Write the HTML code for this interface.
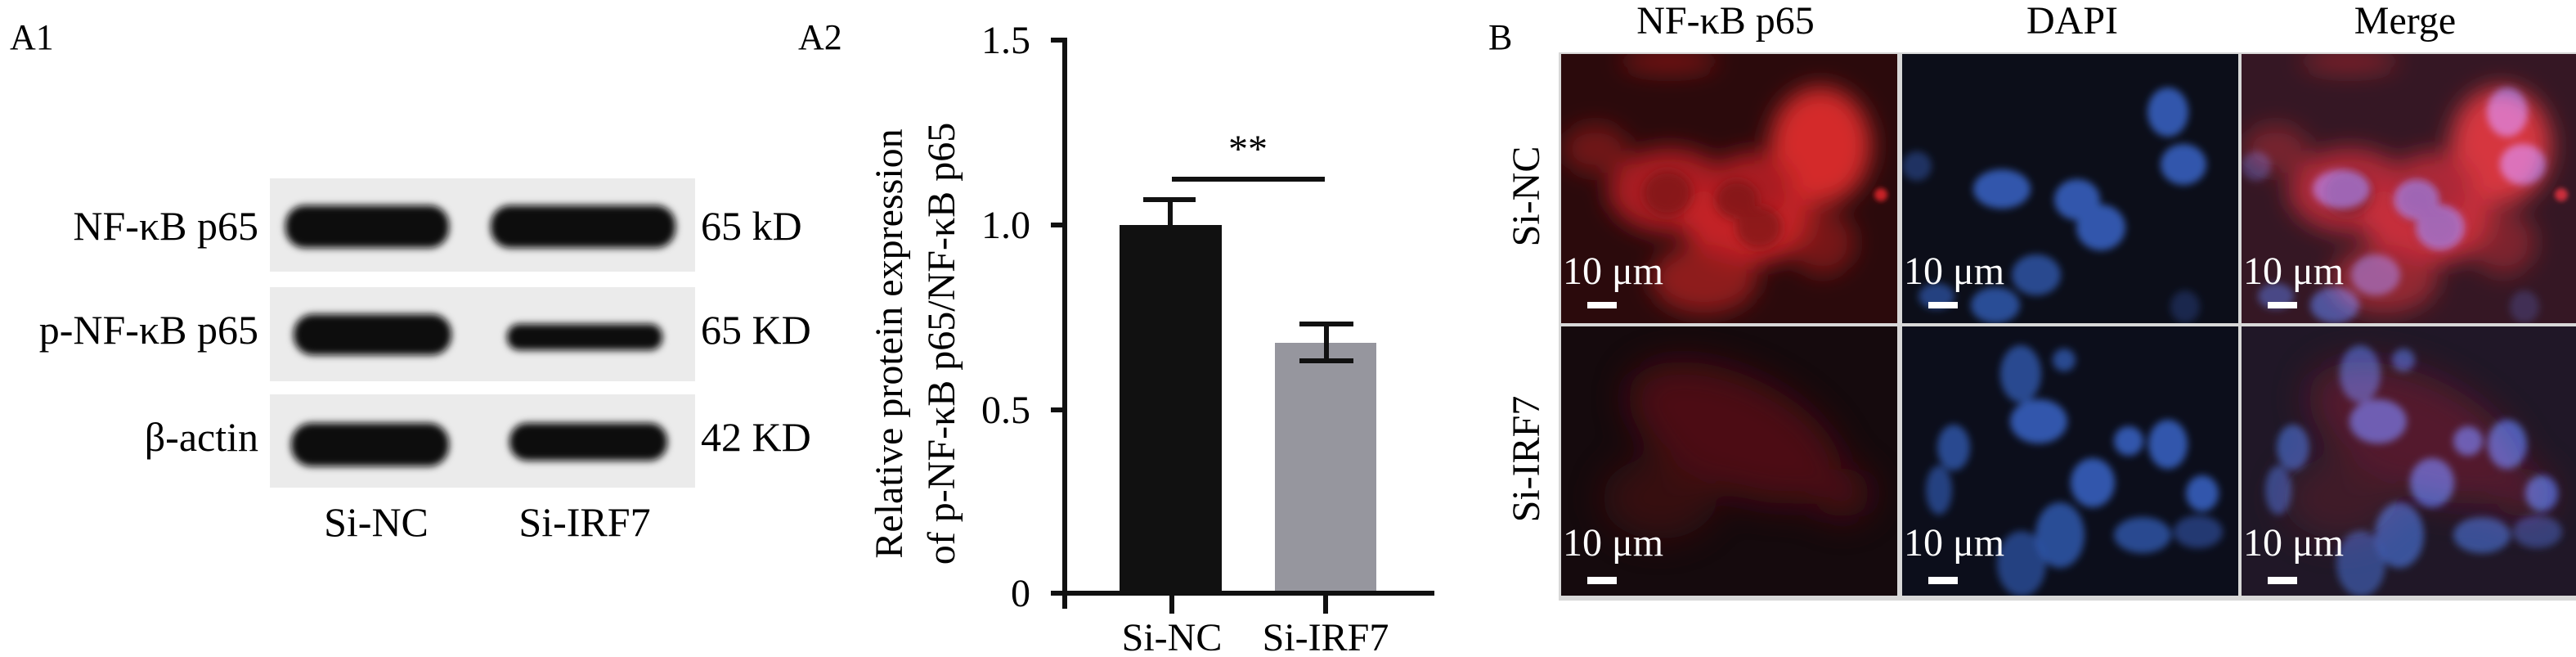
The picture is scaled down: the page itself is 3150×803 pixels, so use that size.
<!DOCTYPE html>
<html><head><meta charset="utf-8"><style>
html,body{margin:0;padding:0;background:#fff;}
svg{display:block;}
text{font-family:"Liberation Serif",serif;}
</style></head><body>
<svg width="3150" height="803" viewBox="0 0 3150 803" xmlns="http://www.w3.org/2000/svg">
<defs>
<filter id="b6" x="-30%" y="-30%" width="160%" height="160%"><feGaussianBlur stdDeviation="6"/></filter>
<filter id="b3" x="-30%" y="-30%" width="160%" height="160%"><feGaussianBlur stdDeviation="3"/></filter>
<filter id="b4" x="-30%" y="-30%" width="160%" height="160%"><feGaussianBlur stdDeviation="4.5"/></filter>
<filter id="b14" x="-50%" y="-50%" width="200%" height="200%"><feGaussianBlur stdDeviation="14"/></filter>
<filter id="b22" x="-50%" y="-50%" width="200%" height="200%"><feGaussianBlur stdDeviation="22"/></filter>
<clipPath id="pc"><rect x="0" y="0" width="411" height="329"/></clipPath>
<g id="red1">
<rect width="411" height="329" fill="#2b0a0c"/>
<g filter="url(#b14)" fill="#a81e22">
<ellipse cx="132" cy="9" rx="60" ry="15" opacity="0.6"/>
<ellipse cx="42" cy="116" rx="40" ry="30" opacity="0.55"/>
<ellipse cx="317" cy="112" rx="62" ry="72" fill="#d42a2c"/>
<ellipse cx="132" cy="167" rx="75" ry="52"/>
<ellipse cx="228" cy="202" rx="80" ry="55" fill="#c42426"/>
<ellipse cx="233" cy="160" rx="50" ry="40"/>
<ellipse cx="175" cy="275" rx="65" ry="42" opacity="0.8"/>
<ellipse cx="320" cy="230" rx="40" ry="40" opacity="0.6"/>
</g>
<g filter="url(#b6)" fill="#7a1518" opacity="0.7">
<ellipse cx="130" cy="170" rx="30" ry="28"/>
<ellipse cx="215" cy="178" rx="26" ry="24"/>
<ellipse cx="242" cy="212" rx="28" ry="26"/>
</g>
<circle cx="391" cy="172" r="8" fill="#c82428" filter="url(#b3)"/>
</g>
<g id="blue1">
<rect width="411" height="329" fill="#0c0e19"/>
<g filter="url(#b4)" fill="#3057ac">
<ellipse cx="325" cy="71" rx="25" ry="30"/>
<ellipse cx="344" cy="135" rx="28" ry="25"/>
<ellipse cx="122" cy="165" rx="35" ry="24"/>
<ellipse cx="214" cy="178" rx="28" ry="25"/>
<ellipse cx="243" cy="212" rx="30" ry="28"/>
<ellipse cx="164" cy="270" rx="30" ry="25" opacity="0.8"/>
<ellipse cx="114" cy="307" rx="30" ry="22" opacity="0.85"/>
<ellipse cx="42" cy="296" rx="22" ry="16" opacity="0.7"/>
<ellipse cx="18" cy="137" rx="18" ry="18" opacity="0.5"/>
<ellipse cx="346" cy="309" rx="18" ry="20" opacity="0.35"/>
</g>
</g>
<g id="red2">
<rect width="411" height="329" fill="#150a0d"/>
<g filter="url(#b22)" fill="#5a1014" opacity="0.8">
<ellipse cx="212" cy="130" rx="140" ry="70" transform="rotate(25 212 130)"/>
<ellipse cx="344" cy="204" rx="35" ry="30"/>
<ellipse cx="120" cy="210" rx="70" ry="50" opacity="0.6"/>
</g>
</g>
<g id="blue2">
<rect width="411" height="329" fill="#0c0e1b"/>
<g filter="url(#b4)" fill="#3057ac">
<ellipse cx="145" cy="58" rx="25" ry="35" opacity="0.8"/>
<ellipse cx="167" cy="116" rx="35" ry="27"/>
<ellipse cx="198" cy="41" rx="14" ry="14" opacity="0.8"/>
<ellipse cx="63" cy="148" rx="20" ry="28" opacity="0.8"/>
<ellipse cx="45" cy="200" rx="16" ry="30" opacity="0.7"/>
<ellipse cx="233" cy="191" rx="27" ry="30"/>
<ellipse cx="277" cy="140" rx="18" ry="18"/>
<ellipse cx="325" cy="144" rx="24" ry="30"/>
<ellipse cx="193" cy="255" rx="30" ry="40" opacity="0.85"/>
<ellipse cx="146" cy="290" rx="30" ry="40" opacity="0.7"/>
<ellipse cx="294" cy="255" rx="35" ry="22" opacity="0.8"/>
<ellipse cx="367" cy="204" rx="20" ry="22"/>
<ellipse cx="362" cy="251" rx="30" ry="20" opacity="0.6"/>
</g>
</g>
</defs>

<!-- A1 -->
<text x="12" y="60" font-size="44">A1</text>
<rect x="330" y="218" width="520" height="114" fill="#ebebeb"/>
<rect x="330" y="351" width="520" height="115" fill="#ebebeb"/>
<rect x="330" y="482" width="520" height="114" fill="#ebebeb"/>
<g fill="#0a0a0a" filter="url(#b4)">
<rect x="349" y="251" width="200" height="52" rx="24"/>
<rect x="600" y="251" width="226" height="52" rx="24"/>
<rect x="359" y="384" width="193" height="50" rx="24"/>
<rect x="620" y="396" width="190" height="32" rx="15"/>
<rect x="356" y="517" width="193" height="53" rx="25"/>
<rect x="623" y="517" width="193" height="46" rx="22"/>
</g>
<g font-size="50" text-anchor="end">
<text x="316" y="293">NF-κB p65</text>
<text x="316" y="420">p-NF-κB p65</text>
<text x="316" y="551">β-actin</text>
</g>
<g font-size="50">
<text x="857" y="293">65 kD</text>
<text x="857" y="420">65 KD</text>
<text x="857" y="551">42 KD</text>
</g>
<g font-size="50" text-anchor="middle">
<text x="460" y="655">Si-NC</text>
<text x="715" y="655">Si-IRF7</text>
</g>

<!-- A2 -->
<text x="976" y="60" font-size="44">A2</text>
<rect x="1369" y="275" width="125" height="450" fill="#111"/>
<rect x="1559" y="419" width="124" height="306" fill="#96969e"/>
<g stroke="#111" stroke-width="6" fill="none">
<line x1="1302" y1="46" x2="1302" y2="744"/>
<line x1="1285" y1="725" x2="1754" y2="725"/>
<line x1="1285" y1="49" x2="1302" y2="49"/>
<line x1="1285" y1="275" x2="1302" y2="275"/>
<line x1="1285" y1="501" x2="1302" y2="501"/>
<line x1="1433" y1="725" x2="1433" y2="750"/>
<line x1="1621" y1="725" x2="1621" y2="750"/>
<line x1="1431" y1="275" x2="1431" y2="244"/>
<line x1="1398" y1="244" x2="1462" y2="244"/>
<line x1="1622" y1="396" x2="1622" y2="441"/>
<line x1="1589" y1="396" x2="1655" y2="396"/>
<line x1="1589" y1="441" x2="1655" y2="441"/>
<line x1="1433" y1="219" x2="1620" y2="219"/>
</g>
<text x="1526" y="198" font-size="48" text-anchor="middle">**</text>
<g font-size="48" text-anchor="end">
<text x="1260" y="65">1.5</text>
<text x="1260" y="291">1.0</text>
<text x="1260" y="517">0.5</text>
<text x="1260" y="741">0</text>
</g>
<g font-size="48" text-anchor="middle">
<text x="1433" y="795">Si-NC</text>
<text x="1621" y="795">Si-IRF7</text>
</g>
<g font-size="48" text-anchor="middle">
<text transform="translate(1103 420) rotate(-90)">Relative protein expression</text>
<text transform="translate(1167 420) rotate(-90)">of p-NF-κB p65/NF-κB p65</text>
</g>

<!-- B -->
<text x="1820" y="60" font-size="44">B</text>
<g font-size="48" text-anchor="middle">
<text x="2110" y="41">NF-κB p65</text>
<text x="2534" y="41">DAPI</text>
<text x="2941" y="41">Merge</text>
<text transform="translate(1882 240) rotate(-90)">Si-NC</text>
<text transform="translate(1882 561) rotate(-90)">Si-IRF7</text>
</g>
<rect x="1906" y="64" width="1244" height="670" fill="#d8d8d8"/>
<g transform="translate(1909 66)" clip-path="url(#pc)"><use href="#red1"/></g>
<g transform="translate(2326 66)" clip-path="url(#pc)"><use href="#blue1"/></g>
<g transform="translate(2741 66)" clip-path="url(#pc)"><use href="#red1"/><use href="#blue1" style="mix-blend-mode:screen"/></g>
<g transform="translate(1909 399)" clip-path="url(#pc)"><use href="#red2"/></g>
<g transform="translate(2326 399)" clip-path="url(#pc)"><use href="#blue2"/></g>
<g transform="translate(2741 399)" clip-path="url(#pc)"><use href="#red2"/><use href="#blue2" style="mix-blend-mode:screen"/></g>
<g font-size="48" fill="#fff">
<text x="1911" y="347">10 μm</text>
<text x="2328" y="347">10 μm</text>
<text x="2743" y="347">10 μm</text>
<text x="1911" y="679">10 μm</text>
<text x="2328" y="679">10 μm</text>
<text x="2743" y="679">10 μm</text>
</g>
<g fill="#fff">
<rect x="1941" y="369" width="36" height="8"/>
<rect x="2358" y="369" width="36" height="8"/>
<rect x="2773" y="369" width="36" height="8"/>
<rect x="1941" y="705" width="36" height="9"/>
<rect x="2358" y="705" width="36" height="9"/>
<rect x="2773" y="705" width="36" height="9"/>
</g>
</svg>
</body></html>
